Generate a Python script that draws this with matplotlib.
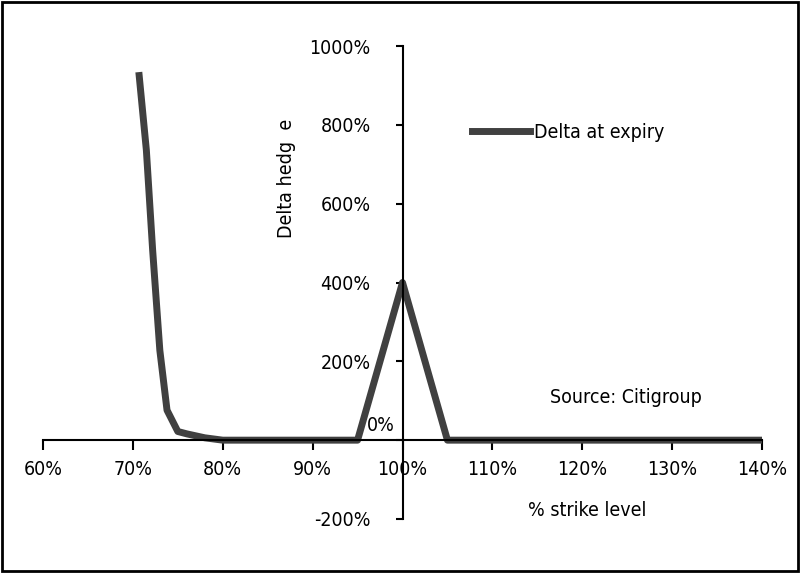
import matplotlib.pyplot as plt
import numpy as np

plt.rcParams['font.family'] = ['DejaVu Sans']
plt.rcParams['font.stretch'] = 'condensed'

# Data (% strike level vs delta hedge %)
strike = [70.7, 71.5, 72.2, 73, 73.8, 75, 76, 77, 78, 79, 80, 85, 90, 95, 100, 105, 110, 120, 130, 140]
delta = [925, 736, 482, 228, 76, 22, 16, 11, 6, 3, 0, 0, 0, 0, 400, 0, 0, 0, 0, 0]

xticks = np.arange(60, 141, 10)
yticks = np.arange(-200, 1001, 200)

fig = plt.figure(figsize=(8, 5.73), dpi=100)
ax = fig.add_axes([43 / 800, 54 / 573, 719 / 800, 473 / 573])

ax.plot(strike, delta, color='#404040', linewidth=5, label='Delta at expiry')

ax.set_xlim(60, 140)
ax.set_ylim(-200, 1000)

# axes crossing at 100% / 0%
ax.spines['left'].set_position(('data', 100))
ax.spines['bottom'].set_position(('data', 0))
ax.spines['top'].set_visible(False)
ax.spines['right'].set_visible(False)
for s in ['left', 'bottom']:
    ax.spines[s].set_linewidth(1.5)
ax.patch.set_visible(False)

fs = 14
ax.set_xticks(xticks)
ax.set_xticklabels([f'{v}%' for v in xticks])
ax.set_yticks(yticks)
ax.set_yticklabels(['' if v == 0 else f'{v}%' for v in yticks])
ax.tick_params(axis='x', direction='out', length=7, width=1.5, pad=7, labelsize=fs)
ax.tick_params(axis='y', direction='out', length=5, width=1.5, pad=18, labelsize=fs)
ax.text(99.15, 38, '0%', fontsize=fs, ha='right', va='center')

ax.set_ylabel('Delta hedg  e', fontsize=fs)
ax.yaxis.set_label_coords(0.352, 0.72)
ax.text(120.5, -178, '% strike level', fontsize=fs, ha='center', va='center')
ax.text(116.4, 107, 'Source: Citigroup', fontsize=fs, ha='left', va='center')

ax.legend(loc='upper left', bbox_to_anchor=(0.572, 0.875), frameon=False, fontsize=fs,
          handlelength=3.0, handletextpad=0.2)

fig.patches.append(plt.Rectangle((0.003, 0.004), 0.994, 0.992, transform=fig.transFigure,
                                 fill=False, edgecolor='black', linewidth=2))

fig.savefig('out.png', dpi=100)
